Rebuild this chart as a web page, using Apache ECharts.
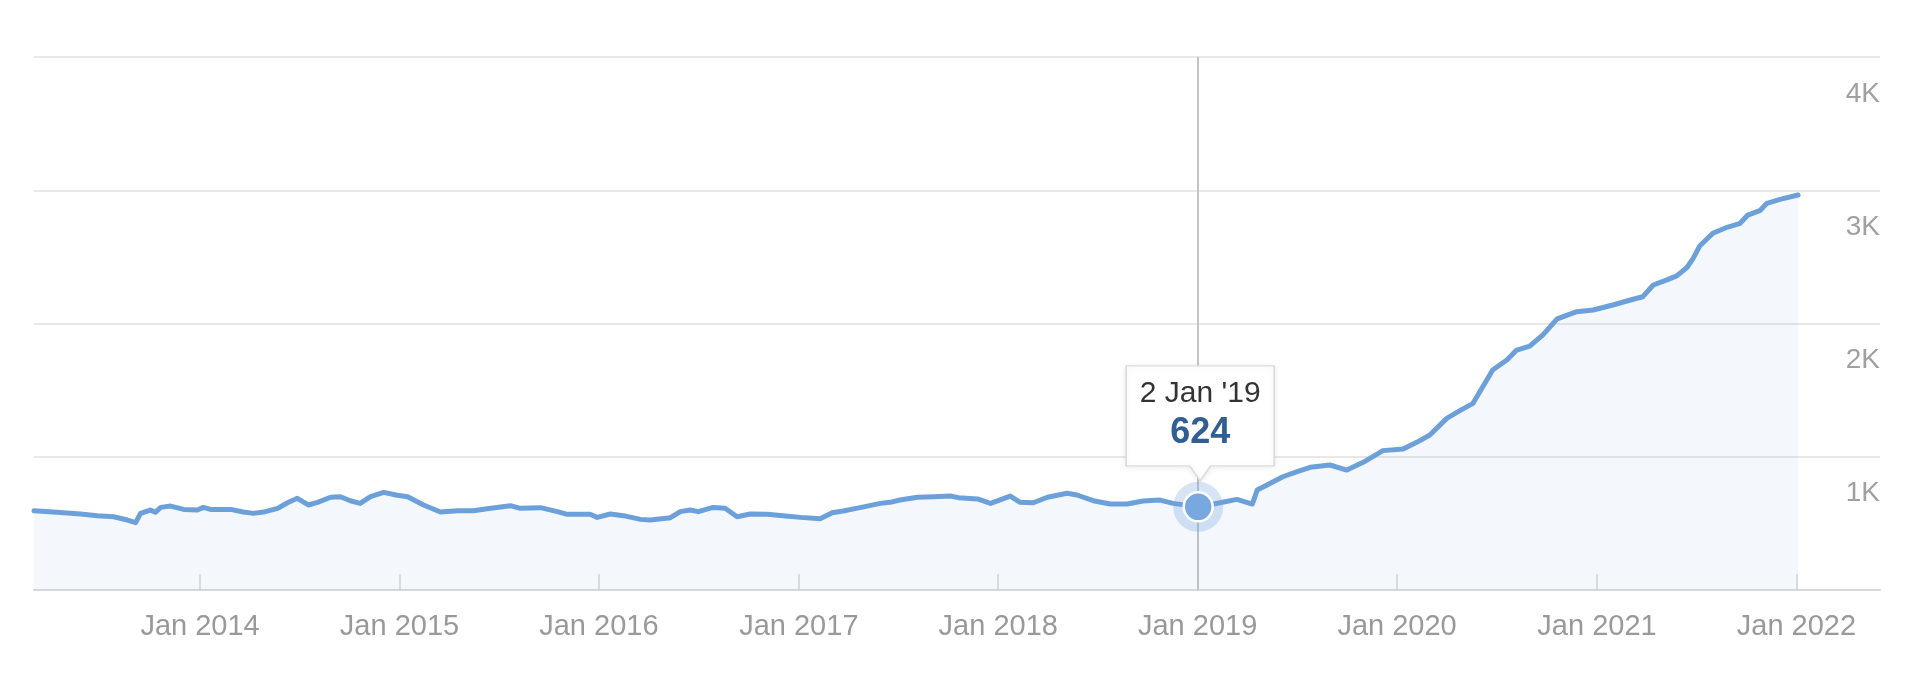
<!DOCTYPE html>
<html><head><meta charset="utf-8">
<script src="https://cdn.jsdelivr.net/npm/echarts@6/dist/echarts.min.js"></script>
<style>html,body{margin:0;padding:0;background:#fff}#c{width:1920px;height:690px}</style>
</head><body><div id="c"></div>
<script>
const dates = ['2013-03-03','2013-04-27','2013-05-27','2013-06-27','2013-07-27','2013-08-21','2013-09-05','2013-09-14','2013-10-02','2013-10-11','2013-10-21','2013-11-08','2013-12-02','2013-12-27',
'2014-01-07','2014-01-20','2014-02-26','2014-03-21','2014-04-09','2014-04-27','2014-05-23','2014-06-10','2014-06-28','2014-07-18','2014-08-04','2014-08-28','2014-09-15','2014-10-03','2014-10-21','2014-11-09','2014-12-03','2014-12-28',
'2015-01-16','2015-02-14','2015-03-17','2015-04-17','2015-05-16','2015-06-17','2015-07-23','2015-08-10','2015-09-16','2015-10-17','2015-11-04','2015-12-16','2015-12-29',
'2016-01-22','2016-02-15','2016-03-17','2016-04-04','2016-05-11','2016-05-29','2016-06-16','2016-07-01','2016-07-28','2016-08-19','2016-09-10','2016-10-04','2016-11-04','2016-12-03',
'2017-01-04','2017-02-09','2017-03-03','2017-03-23','2017-04-23','2017-05-30','2017-06-17','2017-07-05','2017-08-06','2017-09-04','2017-10-05','2017-10-20','2017-11-24','2017-12-18',
'2018-01-23','2018-02-10','2018-03-06','2018-04-01','2018-05-07','2018-05-25','2018-06-24','2018-07-25','2018-08-25','2018-09-23','2018-10-24','2018-11-17',
'2019-01-02','2019-02-11','2019-03-14','2019-04-11','2019-04-20','2019-05-08','2019-06-06','2019-07-02','2019-07-26','2019-08-31','2019-10-01','2019-10-31','2019-12-06',
'2020-01-12','2020-02-06','2020-03-01','2020-04-01','2020-04-25','2020-05-19','2020-06-06','2020-06-24','2020-07-20','2020-08-07','2020-08-31','2020-09-24','2020-10-20','2020-11-25','2020-12-25',
'2021-01-30','2021-03-08','2021-03-26','2021-04-14','2021-05-09','2021-05-27','2021-06-15','2021-06-26','2021-07-08','2021-08-01','2021-08-27','2021-09-20','2021-10-04','2021-10-26','2021-11-08','2021-12-02',
'2022-01-04'];
const values = [595,580,570,558,550,525,505,575,600,583,620,630,605,600,
620,605,605,585,575,585,613,655,688,638,658,696,700,670,650,700,733,711,
700,638,585,595,595,613,633,613,618,588,568,568,545,
570,558,530,525,543,588,600,588,620,613,550,570,568,558,
545,535,580,593,618,650,658,675,696,700,705,693,683,650,
705,658,655,696,726,713,670,645,645,668,675,650,
624,655,680,645,750,788,850,888,921,938,900,958,1046,
1058,1108,1163,1288,1346,1401,1526,1651,1726,1801,1831,1914,2035,2089,2101,
2139,2182,2201,2289,2327,2357,2422,2489,2582,2677,2722,2752,2814,2847,2902,2932,
2964];
const xRange = ['2013-03-03', '2022-06-03'];
const yTicks = [0, 1000, 2000, 3000, 4000];
const yTickLabels = ['', '1K', '2K', '3K', '4K'];
const highlightIndex = dates.indexOf('2019-01-02');
const monthNames = ['Jan','Feb','Mar','Apr','May','Jun','Jul','Aug','Sep','Oct','Nov','Dec'];

function fmtTip(d) {
  const p = d.split('-');
  return parseInt(p[2], 10) + ' ' + monthNames[parseInt(p[1], 10) - 1] + " '" + p[0].slice(2);
}

const hDate = dates[highlightIndex];
const hVal = values[highlightIndex];
const FONT = '"Liberation Sans", Arial, Helvetica, sans-serif';

const chart = echarts.init(document.getElementById('c'), null, {renderer: 'canvas'});
chart.setOption({
  animation: false,
  backgroundColor: '#ffffff',
  grid: {left: 34, right: 40, top: 57, bottom: 100, containLabel: false},
  xAxis: {
    type: 'time',
    min: xRange[0],
    max: xRange[1],
    minInterval: 365 * 24 * 3600 * 1000,
    maxInterval: 366 * 24 * 3600 * 1000,
    axisLine: {show: true, lineStyle: {color: '#d9d9d9', width: 2}},
    axisTick: {show: true, inside: true, length: 16, lineStyle: {color: '#d6d6d6', width: 1.5}},
    splitLine: {show: false},
    axisLabel: {
      show: true, margin: 22, color: '#999999', fontSize: 29, fontFamily: FONT,
      showMinLabel: false, showMaxLabel: false,
      formatter: function (v) { const dt = new Date(v); return monthNames[dt.getMonth()] + ' ' + dt.getFullYear(); }
    }
  },
  yAxis: {
    type: 'value',
    position: 'right',
    min: yTicks[0],
    max: yTicks[yTicks.length - 1],
    interval: 1000,
    axisLine: {show: false},
    axisTick: {show: false},
    splitLine: {show: true, lineStyle: {color: '#e8e8e8', width: 2}},
    axisLabel: {
      inside: true, margin: 0, color: '#a0a0a0', fontSize: 28, fontFamily: FONT,
      verticalAlign: 'top', lineHeight: 28, padding: [23, 0, 0, 0],
      formatter: function (v) { const i = yTicks.indexOf(v); return i >= 0 ? yTickLabels[i] : ''; }
    }
  },
  series: [
    {
      type: 'line',
      data: dates.map((d, i) => [d, values[i]]),
      showSymbol: false,
      symbol: 'none',
      lineStyle: {color: '#6ba0db', width: 5, join: 'round', cap: 'round'},
      areaStyle: {color: 'rgba(110,162,220,0.11)'},
      z: 2,
      markLine: {
        silent: true, symbol: 'none', z: 1,
        label: {show: false},
        lineStyle: {color: '#c4c4c4', width: 2, type: 'solid'},
        data: [{xAxis: hDate}]
      }
    },
    {
      type: 'scatter',
      data: [],
      z: 10,
      markPoint: {
        silent: true,
        z: 10,
        data: [
          {coord: [hDate, hVal], symbol: 'circle', symbolSize: 50,
           itemStyle: {color: 'rgba(118,166,222,0.3)'}, label: {show: false}},
          {coord: [hDate, hVal], symbol: 'circle', symbolSize: 29,
           itemStyle: {color: '#78a8e0', borderColor: '#ffffff', borderWidth: 2.5}, label: {show: false}},
          {coord: [hDate, hVal],
           symbol: 'path://M0,0L148,0L148,100L84.5,100L74,115L63.5,100L0,100Z',
           symbolSize: [148, 115],
           symbolOffset: [2, -83.5],
           itemStyle: {color: '#ffffff', borderColor: '#dcdcdc', borderWidth: 1.5,
                       shadowBlur: 6, shadowColor: 'rgba(0,0,0,0.08)', shadowOffsetY: 1},
           label: {
             show: true, position: 'inside', offset: [0, -9.5],
             formatter: '{d|' + fmtTip(hDate) + '}\n{v|' + hVal + '}',
             rich: {
               d: {fontSize: 30, color: '#333333', fontFamily: FONT, lineHeight: 38, align: 'center'},
               v: {fontSize: 36, fontWeight: 'bold', color: '#305f96', fontFamily: FONT, lineHeight: 40, align: 'center'}
             }
           }
          }
        ]
      }
    }
  ]
});
</script>
</body></html>
